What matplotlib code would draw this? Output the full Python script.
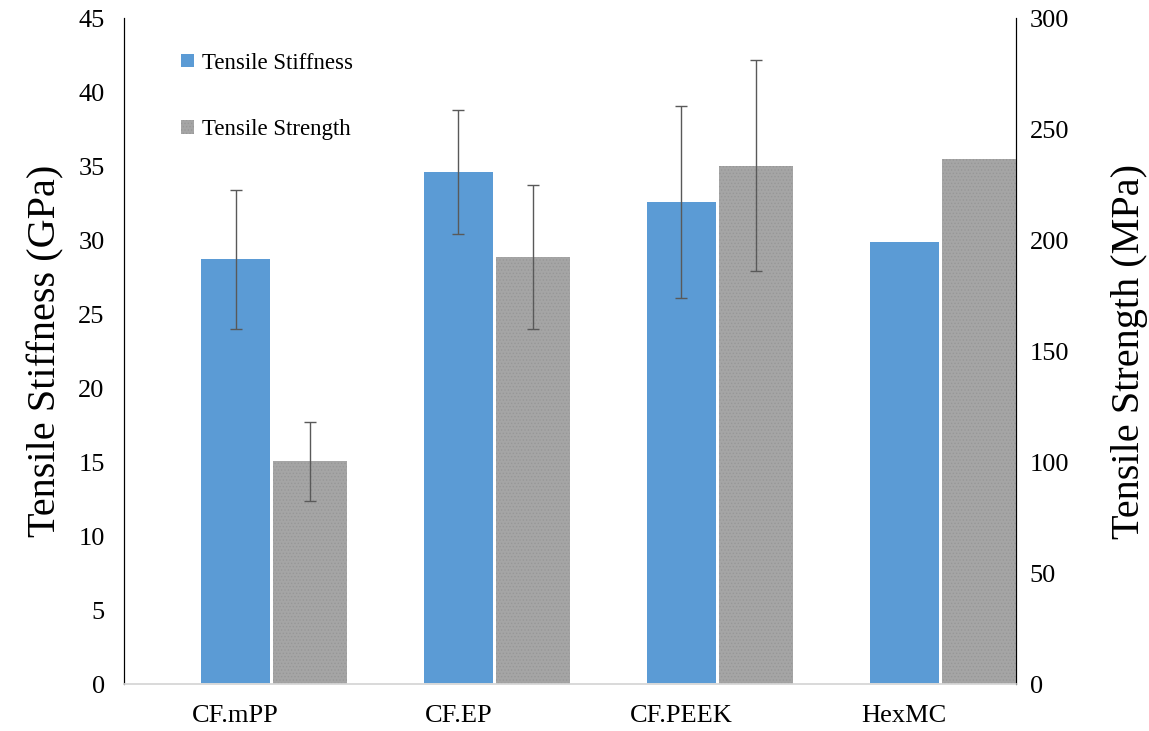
import numpy as np
import matplotlib
matplotlib.use('Agg')
import matplotlib.pyplot as plt

materials = ['CF.mPP', 'CF.EP', 'CF.PEEK', 'HexMC']
stiffness = [28.7, 34.6, 32.6, 29.9]          # GPa
stiffness_err = [4.7, 4.2, 6.5]               # HexMC has no error bar
strength = [100.5, 192.5, 233.5, 236.5]       # MPa
strength_err = [17.8, 32.4, 47.5]

plt.rcParams['font.family'] = ['Liberation Serif', 'DejaVu Serif']
plt.rcParams['hatch.linewidth'] = 0.6

fig = plt.figure(figsize=(11.49, 7.31), dpi=100)
ax = fig.add_axes([0.108, 0.064, 0.776, 0.911])
ax2 = ax.twinx()

x = np.arange(len(materials))
blue = '#5B9BD5'
gray = '#A5A5A5'
errc = '#595959'

ax.bar(x, stiffness, width=0.31, color=blue, edgecolor='none', zorder=2,
       label='Tensile Stiffness')
ax.errorbar(x[:3], stiffness[:3], yerr=stiffness_err, fmt='none', ecolor=errc,
            elinewidth=1, capsize=4, capthick=1, zorder=3)

ax2.bar(x + 0.335, strength, width=0.33, color=gray, edgecolor='#979797',
        linewidth=0, hatch='.....', zorder=2, label='Tensile Strength')
ax2.errorbar(x[:3] + 0.335, strength[:3], yerr=strength_err, fmt='none',
             ecolor=errc, elinewidth=1, capsize=4, capthick=1, zorder=3)

ax.set_xlim(-0.5, 3.5)
ax.set_ylim(0, 45)
ax.set_yticks(np.arange(0, 46, 5))
ax2.set_ylim(0, 300)
ax2.set_yticks(np.arange(0, 301, 50))
ax.set_xticks(x)
ax.set_xticklabels(materials)

for a in (ax, ax2):
    a.spines['top'].set_visible(False)
    a.spines['left'].set_color('black')
    a.spines['right'].set_color('black')
    a.spines['bottom'].set_color('#d9d9d9')
    a.spines['bottom'].set_linewidth(1.2)
    a.tick_params(length=0, labelsize=19)
ax.tick_params(axis='y', pad=14)
ax.tick_params(axis='x', pad=15)
ax2.tick_params(axis='y', pad=10)

ax.set_ylabel('Tensile Stiffness (GPa)', fontsize=29, labelpad=10)
ax2.set_ylabel('Tensile Strength (MPa)', fontsize=29, labelpad=30)

h1, l1 = ax.get_legend_handles_labels()
h2, l2 = ax2.get_legend_handles_labels()
ax2.legend(h1 + h2, l1 + l2, loc='upper left', bbox_to_anchor=(0.041, 0.9795),
           frameon=False, fontsize=16.5, handlelength=0.55, handleheight=0.55,
           handletextpad=0.35, labelspacing=2.0)

fig.savefig('out.png', dpi=100)
